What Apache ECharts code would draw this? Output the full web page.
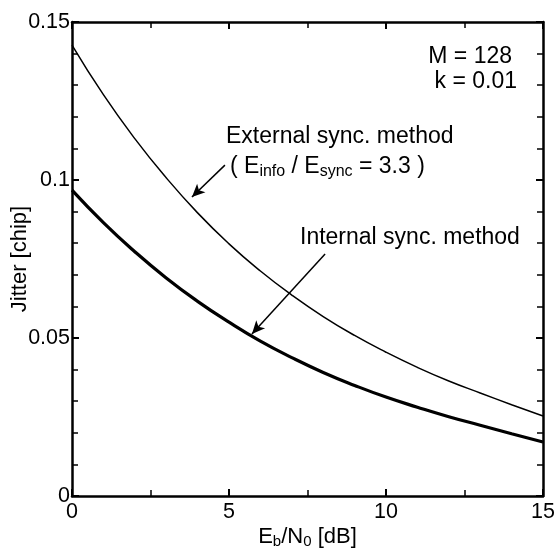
<!DOCTYPE html>
<html>
<head>
<meta charset="utf-8">
<script src="https://cdn.jsdelivr.net/npm/echarts@6/dist/echarts.min.js"></script>
<style>
html, body {margin:0; padding:0; background:#fff;}
#chart {width:557px; height:549px;}
</style>
</head>
<body>
<div id="chart"></div>
<script>
// Eb/N0 [dB]
var ebn0 = [0, 1, 2, 3, 4, 5, 6, 7, 8, 9, 10, 11, 12, 13, 14, 15];
// jitter
var external_sync = [0.1427, 0.1270, 0.1131, 0.1007, 0.0896, 0.0798, 0.0712, 0.0636, 0.0568, 0.0508, 0.0455, 0.0407, 0.0364, 0.0326, 0.0289, 0.0253];
var internal_sync = [0.0968, 0.0865, 0.0773, 0.0690, 0.0616, 0.0550, 0.0490, 0.0438, 0.0391, 0.0350, 0.0313, 0.0281, 0.0251, 0.0224, 0.0197, 0.0171];
// arrow ends [x, y] in data units
var ext_arrow = [[4.87, 0.1047], [3.82, 0.0946]];
var int_arrow = [[8.06, 0.0766], [5.73, 0.0513]];

var font = 'Liberation Sans, Arial, Helvetica, sans-serif';
var myChart = echarts.init(document.getElementById('chart'));

function pairs(xs, ys) {
	var out = [];
	for (i = 0; i < xs.length; i++) out.push([xs[i], ys[i]]);
	return out;
}

function arrow_line(a) {
	return {
		silent: true,
		symbol: ['none', 'arrow'],
		symbolSize: [9, 13],
		lineStyle: {color: '#000', width: 1.5, type: 'solid'},
		label: {show: false},
		data: [[{coord: a[0]}, {coord: a[1]}]]
	};
}

function note(x, y, txt, align) {
	return {
		type: 'text', position: [x, y],
		style: {
			text: txt, fill: '#000', font: '23px ' + font,
			align: align, verticalAlign: 'middle',
			rich: {sub: {font: '16px ' + font, fill: '#000', padding: [10, 0, 0, 0]}}
		}
	};
}

var axis_common = {
	axisLine: {show: true, onZero: false, lineStyle: {color: '#000', width: 2.5}},
	axisTick: {show: true, inside: true, length: 7, lineStyle: {color: '#000', width: 2}},
	minorTick: {show: true, length: 6, lineStyle: {color: '#000', width: 1.5}},
	splitLine: {show: false},
	minorSplitLine: {show: false},
	nameMoveOverlap: false
};

var option = {
	animation: false,
	backgroundColor: '#fff',
	grid: {left: 72, right: 14, top: 22, bottom: 53, containLabel: false, outerBoundsMode: 'none'},
	xAxis: [
		Object.assign({}, axis_common, {
			type: 'value', min: 0, max: 15, interval: 5, position: 'bottom',
			minorTick: Object.assign({}, axis_common.minorTick, {splitNumber: 2}),
			axisLabel: {color: '#000', fontSize: 21.5, fontFamily: font, margin: 5},
			name: 'E{sub|b}/N{sub|0} [dB]',
			nameLocation: 'middle', nameGap: 28,
			nameTextStyle: {
				color: '#000', fontSize: 22, fontFamily: font,
				rich: {sub: {fontSize: 15, fontFamily: font, color: '#000', padding: [10, 0, 0, 0]}}
			}
		}),
		Object.assign({}, axis_common, {
			type: 'value', min: 0, max: 15, interval: 5, position: 'top',
			minorTick: Object.assign({}, axis_common.minorTick, {splitNumber: 2}),
			axisLabel: {show: false}
		})
	],
	yAxis: [
		Object.assign({}, axis_common, {
			type: 'value', min: 0, max: 0.15, interval: 0.05, position: 'left',
			minorTick: Object.assign({}, axis_common.minorTick, {splitNumber: 5}),
			axisLabel: {color: '#000', fontSize: 21.5, fontFamily: font, margin: 2,
				formatter: function (v) { return String(parseFloat(v.toFixed(2))); }},
			name: 'Jitter [chip]',
			nameLocation: 'middle', nameGap: 41, nameRotate: 90,
			nameTextStyle: {color: '#000', fontSize: 22, fontFamily: font}
		}),
		Object.assign({}, axis_common, {
			type: 'value', min: 0, max: 0.15, interval: 0.05, position: 'right',
			minorTick: Object.assign({}, axis_common.minorTick, {splitNumber: 5}),
			axisLabel: {show: false}
		})
	],
	graphic: [
		note(512, 57, 'M = 128', 'right'),
		note(517, 82, 'k = 0.01', 'right'),
		note(226, 137, 'External sync. method', 'left'),
		note(230, 167, '( E{sub|info} / E{sub|sync} = 3.3 )', 'left'),
		note(300, 238, 'Internal sync. method', 'left')
	],
	series: [
		{
			name: 'External sync. method',
			type: 'line', showSymbol: false, smooth: true,
			lineStyle: {color: '#000', width: 1.5},
			data: pairs(ebn0, external_sync),
			markLine: arrow_line(ext_arrow)
		},
		{
			name: 'Internal sync. method',
			type: 'line', showSymbol: false, smooth: true,
			lineStyle: {color: '#000', width: 3.2},
			data: pairs(ebn0, internal_sync),
			markLine: arrow_line(int_arrow)
		}
	]
};
myChart.setOption(option);
</script>
</body>
</html>
